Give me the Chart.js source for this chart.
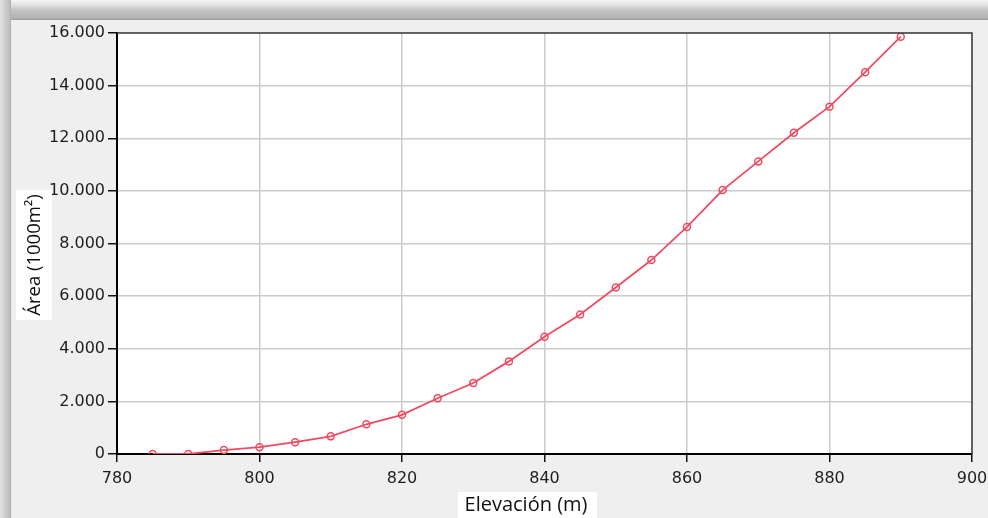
<!DOCTYPE html>
<html>
<head>
<meta charset="utf-8">
<script src="https://cdn.jsdelivr.net/npm/chart.js@4/dist/chart.umd.min.js"></script>
<style>
  html, body { margin: 0; padding: 0; background: #efefef; }
  #wrap { width: 988px; height: 518px; position: relative; }
  canvas { display: block; }
</style>
</head>
<body>
<div id="wrap"><canvas id="c" width="988" height="518"></canvas></div>
<script>
// ---- data ----
const elevation = [785, 790, 795, 800, 805, 810, 815, 820, 825, 830, 835, 840, 845, 850, 855, 860, 865, 870, 875, 880, 885, 890];
const area = [0, 0, 150, 260, 450, 670, 1130, 1490, 2120, 2700, 3520, 4460, 5300, 6330, 7370, 8630, 10030, 11120, 12210, 13200, 14510, 15860];
const xTicks = [780, 800, 820, 840, 860, 880, 900];
const yTicks = [0, 2000, 4000, 6000, 8000, 10000, 12000, 14000, 16000];
const xTitle = 'Elevación (m)';
const yTitle = 'Área (1000m²)';

function fmtThousands(v) {
  return String(Math.round(v)).replace(/\B(?=(\d{3})+(?!\d))/g, '.');
}

const framePlugin = {
  id: 'frame',
  beforeDraw(chart) {
    const ctx = chart.ctx;
    const W = chart.width, H = chart.height;
    ctx.save();
    ctx.fillStyle = '#efefef';
    ctx.fillRect(0, 0, W, H);
    // top band
    let g = ctx.createLinearGradient(0, 0, 0, 20);
    g.addColorStop(0, '#f6f6f6');
    g.addColorStop(0.25, '#e2e2e2');
    g.addColorStop(0.5, '#c4c4c4');
    g.addColorStop(0.9, '#b2b2b2');
    g.addColorStop(1, '#9a9a9a');
    ctx.fillStyle = g;
    ctx.fillRect(0, 0, W, 20);
    // left band
    g = ctx.createLinearGradient(0, 0, 11, 0);
    g.addColorStop(0, '#e4e4e4');
    g.addColorStop(0.5, '#cdcdcd');
    g.addColorStop(0.9, '#bdbdbd');
    g.addColorStop(1, '#a8a8a8');
    ctx.fillStyle = g;
    ctx.fillRect(0, 0, 11, H);
    // plot area white
    const a = chart.chartArea;
    ctx.fillStyle = '#ffffff';
    ctx.fillRect(a.left, a.top, a.right - a.left, a.bottom - a.top);
    ctx.restore();
  },
  afterDraw(chart) {
    const ctx = chart.ctx;
    const a = chart.chartArea;
    ctx.save();
    // top & right border of plot
    ctx.strokeStyle = '#3c3c3c';
    ctx.lineWidth = 1.5;
    ctx.beginPath();
    ctx.moveTo(a.left, a.top);
    ctx.lineTo(a.right, a.top);
    ctx.lineTo(a.right, a.bottom);
    ctx.stroke();
    // axis titles with white boxes
    ctx.fillStyle = '#ffffff';
    ctx.fillRect(16, 190, 36, 130);
    ctx.fillRect(458, 492, 139, 26);
    ctx.fillStyle = '#111111';
    ctx.textAlign = 'center';
    ctx.textBaseline = 'middle';
    ctx.font = '20px "Open Sans"';
    ctx.fillText(xTitle, 526, 505);
    ctx.font = '18.5px "Open Sans"';
    ctx.translate(35, 255);
    ctx.rotate(-Math.PI / 2);
    ctx.fillText(yTitle, 0, 0);
    ctx.restore();
  }
};

const points = elevation.map((x, i) => ({ x: x, y: area[i] }));

new Chart(document.getElementById('c'), {
  type: 'line',
  data: {
    datasets: [{
      data: points,
      borderColor: '#ee4b62',
      borderWidth: 1.8,
      pointRadius: 3.5,
      pointBorderWidth: 1.5,
      pointBorderColor: '#ee4b62',
      pointBackgroundColor: 'rgba(0,0,0,0)',
      tension: 0
    }]
  },
  options: {
    responsive: false,
    animation: false,
    layout: { padding: { top: 33, right: 16, left: 0, bottom: 0 } },
    plugins: { legend: { display: false }, tooltip: { enabled: false } },
    scales: {
      x: {
        type: 'linear',
        min: 780, max: 900,
        afterFit(s) { s.height = 64; s.paddingLeft = 0; s.paddingRight = 0; },
        afterBuildTicks(s) { s.ticks = xTicks.map(v => ({ value: v })); },
        ticks: {
          color: '#1e1e1e',
          font: { family: '"DejaVu Sans"', size: 16 },
          padding: 7,
          maxRotation: 0,
          callback: v => String(v)
        },
        grid: { color: '#cccccc', lineWidth: 1.5, tickLength: 8, tickColor: '#111111', tickWidth: 1.5 },
        border: { color: '#000000', width: 2 }
      },
      y: {
        min: 0, max: 16000,
        afterFit(s) { s.width = 117; s.paddingTop = 0; s.paddingBottom = 0; },
        afterBuildTicks(s) { s.ticks = yTicks.map(v => ({ value: v })); },
        ticks: {
          color: '#1e1e1e',
          font: { family: '"DejaVu Sans"', size: 16 },
          padding: 3,
          callback: v => fmtThousands(v)
        },
        grid: { color: '#cccccc', lineWidth: 1.5, tickLength: 9, tickColor: '#111111', tickWidth: 1.5 },
        border: { color: '#000000', width: 2 }
      }
    }
  },
  plugins: [framePlugin]
});
</script>
</body>
</html>
